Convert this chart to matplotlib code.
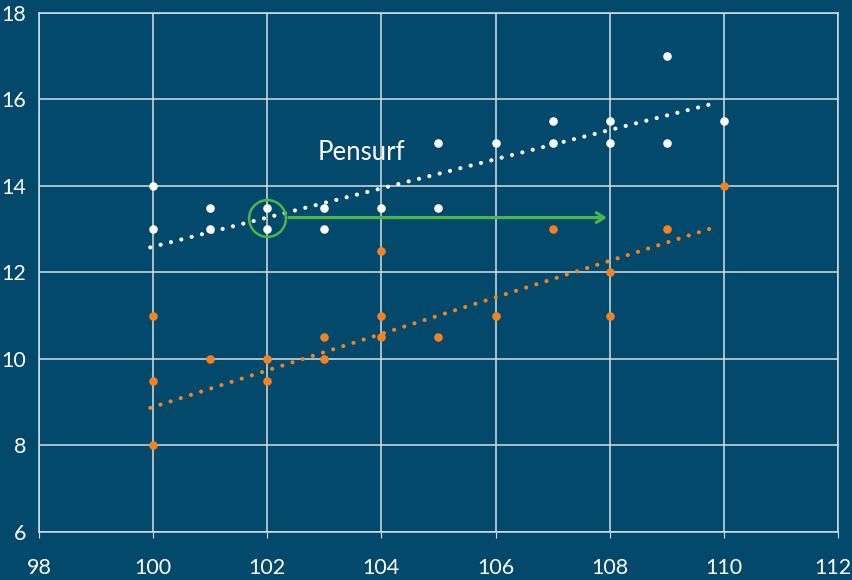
import numpy as np
import matplotlib
matplotlib.use('Agg')
import matplotlib.pyplot as plt
import matplotlib.transforms as mtransforms

# scatter data
white_x = [100, 100, 101, 101, 102, 102, 103, 103, 104, 105, 105, 106, 107, 107, 108, 108, 109, 109, 110]
white_y = [14, 13, 13.5, 13, 13.5, 13, 13.5, 13, 13.5, 13.5, 15, 15, 15.5, 15, 15.5, 15, 17, 15, 15.5]

orange_x = [100, 100, 100, 101, 102, 102, 103, 103, 104, 104, 104, 105, 106, 107, 108, 108, 109, 110]
orange_y = [11, 9.5, 8, 10, 10, 9.5, 10.5, 10, 12.5, 11, 10.5, 10.5, 11, 13, 12, 11, 13, 14]

# dotted trend lines (end points)
trend_x = [99.95, 109.8]
white_trend_y = [12.58, 15.9]
orange_trend_y = [8.87, 13.03]

# highlight + arrow
circle_pt = (102, 13.27)
arrow_start = (102.33, 13.27)
arrow_end = (108.0, 13.27)
label_text = 'Pensurf'
label_pos = (102.88, 14.78)

xticks = list(range(98, 113, 2))
yticks = list(range(6, 19, 2))

bg = '#02496b'
orange = '#f5821f'
green = '#4cb748'
gridc = '#d5e0e7'

plt.rcParams['font.family'] = ['Lato', 'DejaVu Sans']

fig = plt.figure(figsize=(8.53, 5.8), dpi=100)
fig.patch.set_facecolor(bg)
ax = fig.add_axes([0.0457, 0.0828, 0.9367, 0.8948])
ax.set_facecolor(bg)

ax.set_xlim(98, 112)
ax.set_ylim(6, 18)
ax.set_xticks(xticks)
ax.set_yticks(yticks)
ax.grid(True, color=gridc, lw=1.1, zorder=0)
ax.set_axisbelow(True)
for s in ax.spines.values():
    s.set_color(gridc)
    s.set_linewidth(1.1)
ax.tick_params(axis='x', colors=gridc, length=4, direction='out', pad=15,
               labelsize=15.5, labelcolor='white')
ax.tick_params(axis='y', colors=gridc, length=0, pad=9,
               labelsize=15.5, labelcolor='white')

# nudge the last x label so it stays inside the figure
last = ax.xaxis.get_major_ticks()[-1].label1
last.set_transform(last.get_transform() +
                   mtransforms.ScaledTranslation(-4 / 72, 0, fig.dpi_scale_trans))

# trend lines
ax.plot(trend_x, white_trend_y, color='white', lw=3.0,
        linestyle=(0, (0.01, 2.55)), dash_capstyle='round', zorder=2)
ax.plot(trend_x, orange_trend_y, color=orange, lw=3.0,
        linestyle=(0, (0.01, 2.55)), dash_capstyle='round', zorder=2)

# points
ax.scatter(white_x, white_y, s=38, color='white', zorder=3, linewidths=0)
ax.scatter(orange_x, orange_y, s=38, color=orange, zorder=3, linewidths=0)

# green circle and arrow
ax.plot([circle_pt[0]], [circle_pt[1]], marker='o', ms=26.5, mfc='none',
        mec=green, mew=1.8, zorder=4)
ax.annotate('', xy=arrow_end, xytext=arrow_start,
            arrowprops=dict(arrowstyle='->,head_length=0.55,head_width=0.35',
                            color=green, lw=2.3), zorder=4)

ax.text(label_pos[0], label_pos[1], label_text, color='white', fontsize=18.5,
        ha='left', va='center', zorder=5)

fig.savefig('out.png', dpi=100, facecolor=bg)
